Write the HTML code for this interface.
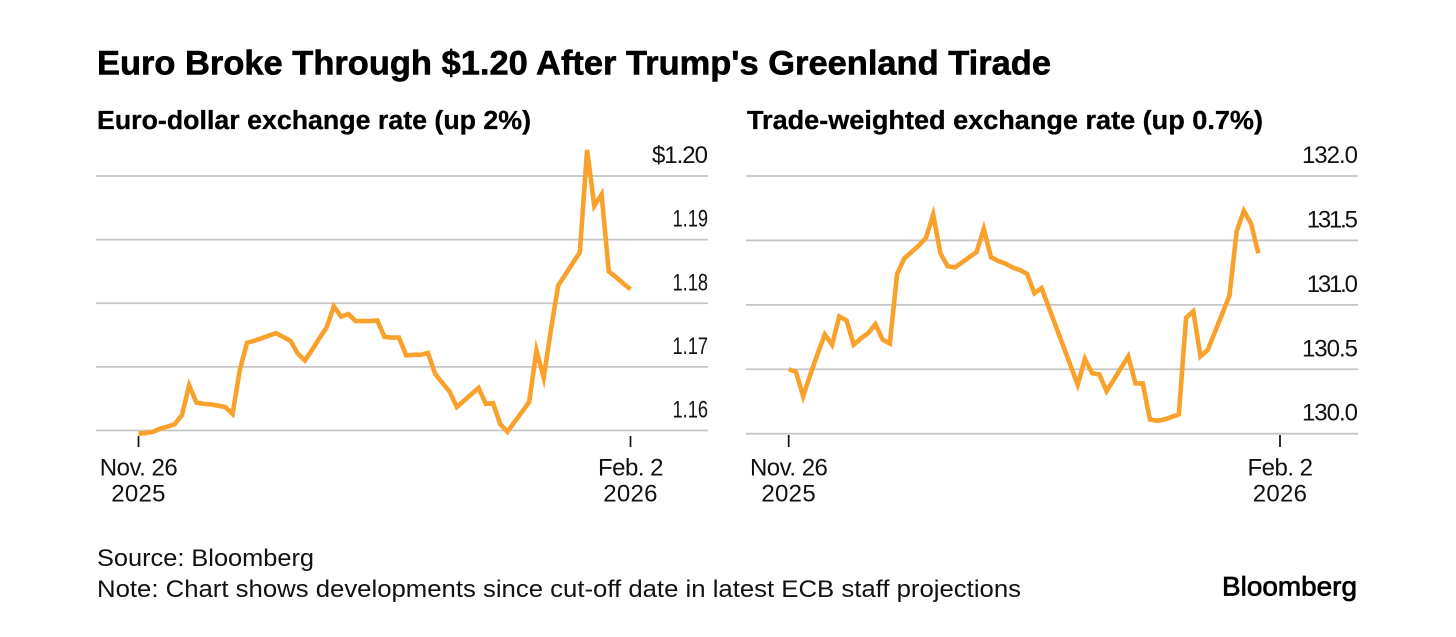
<!DOCTYPE html>
<html lang="en">
<head>
<meta charset="utf-8">
<title>Euro Broke Through $1.20 After Trump's Greenland Tirade</title>
<style>
html,body{margin:0;padding:0;background:#fff;}
svg{display:block;font-family:"Liberation Sans",Arial,sans-serif;}
</style>
</head>
<body>
<svg id="chart" width="1456" height="637" viewBox="0 0 1456 637" xmlns="http://www.w3.org/2000/svg">
<rect width="1456" height="637" fill="#ffffff"/>
<text x="97" y="74.5" font-size="34" font-weight="700" fill="#000" stroke="#000" stroke-width="0.6" textLength="954" lengthAdjust="spacingAndGlyphs">Euro Broke Through $1.20 After Trump's Greenland Tirade</text>
<text x="97" y="129" font-size="25.5" font-weight="700" fill="#000" stroke="#000" stroke-width="0.3" textLength="434" lengthAdjust="spacingAndGlyphs">Euro-dollar exchange rate (up 2%)</text>
<text x="747" y="129" font-size="25.5" font-weight="700" fill="#000" stroke="#000" stroke-width="0.3" textLength="516" lengthAdjust="spacingAndGlyphs">Trade-weighted exchange rate (up 0.7%)</text>
<g id="left-panel"></g>
<g id="right-panel"></g>
<text x="97" y="566" font-size="24" fill="#111" textLength="217" lengthAdjust="spacingAndGlyphs">Source: Bloomberg</text>
<text x="97" y="597" font-size="24" fill="#111" textLength="924" lengthAdjust="spacingAndGlyphs">Note: Chart shows developments since cut-off date in latest ECB staff projections</text>
<text x="1222" y="595.5" font-size="26.5" fill="#000" stroke="#000" stroke-width="0.7" textLength="135" lengthAdjust="spacingAndGlyphs">Bloomberg</text>
</svg>
<script>
const leftTickValues = [1.20, 1.19, 1.18, 1.17, 1.16];
const leftTickLabels = ["$1.20", "1.19", "1.18", "1.17", "1.16"];
const rightTickValues = [132.0, 131.5, 131.0, 130.5, 130.0];
const rightTickLabels = ["132.0", "131.5", "131.0", "130.5", "130.0"];
const dateTickDays = [0, 68];
const dateTickLine1 = ["Nov. 26", "Feb. 2"];
const dateTickLine2 = ["2025", "2026"];
const euroDollarSeries = [
1.1595,1.1596,1.1598,1.1603,1.1606,1.1610,1.1624,1.1671,1.1644,1.1642,
1.1641,1.1639,1.1637,1.1626,1.1695,1.1738,1.1741,1.1745,1.1749,1.1753,
1.1747,1.1741,1.1721,1.1710,1.1727,1.1745,1.1762,1.1795,1.1779,1.1783,
1.1772,1.1772,1.1772,1.1773,1.1747,1.1746,1.1746,1.1718,1.1719,1.1719,
1.1722,1.1689,1.1675,1.1661,1.1637,1.1647,1.1657,1.1667,1.1642,1.1643,
1.1610,1.1598,1.1614,1.1629,1.1645,1.1726,1.1683,1.1758,1.1828,1.1845,
1.1863,1.1880,1.2041,1.1953,1.1971,1.1850,1.1841,1.1831,1.1822
];
const tradeWeightedSeries = [
130.50,130.48,130.29,130.46,130.62,130.77,130.69,130.91,130.88,130.69,
130.74,130.78,130.85,130.73,130.70,131.24,131.36,131.41,131.46,131.52,
131.70,131.40,131.30,131.29,131.33,131.37,131.41,131.59,131.37,131.34,
131.32,131.29,131.27,131.24,131.09,131.13,130.98,130.83,130.68,130.53,
130.38,130.58,130.47,130.46,130.33,130.42,130.51,130.60,130.39,130.39,
130.11,130.10,130.11,130.13,130.15,130.90,130.95,130.60,130.65,130.79,
130.93,131.07,131.57,131.73,131.63,131.40
];

const NS = "http://www.w3.org/2000/svg";

function makeScale(d0, d1, r0, r1) {
  return function (v) { return r0 + (v - d0) / (d1 - d0) * (r1 - r0); };
}

function drawPanel(group, opts) {
  const xScale = makeScale(0, 68, opts.xStart, opts.xEnd);
  const yScale = makeScale(opts.domainLow, opts.domainHigh, opts.yLow, opts.yHigh);

  opts.tickValues.forEach(function (v, i) {
    const y = yScale(v);
    const line = document.createElementNS(NS, "line");
    
    
    line.setAttribute("x1", opts.gridLeft);
    line.setAttribute("x2", opts.gridRight);
    line.setAttribute("y1", y);
    line.setAttribute("y2", y);
    line.setAttribute("stroke", "#c6c6c6");
    line.setAttribute("stroke-width", "1.8");
    group.appendChild(line);

    const text = opts.tickLabels[i];
    const label = document.createElementNS(NS, "text");
    
    
    label.setAttribute("y", y - 13);
    label.setAttribute("text-anchor", "end");
    label.setAttribute("font-size", "24");
    label.setAttribute("fill", "#111");
    if (text.length === 4) {
      label.setAttribute("x", opts.gridRight);
      label.setAttribute("textLength", "35.5");
      label.setAttribute("lengthAdjust", "spacingAndGlyphs");
    } else {
      const ls = (text.match(/1/g) || []).length > 1 ? -2.2 : -1;
      label.setAttribute("x", opts.gridRight + ls);
      label.setAttribute("letter-spacing", ls);
    }
    label.textContent = text;
    group.appendChild(label);
  });

  dateTickDays.forEach(function (d, i) {
    const x = xScale(d);
    const tick = document.createElementNS(NS, "line");
    
    
    tick.setAttribute("x1", x);
    tick.setAttribute("x2", x);
    tick.setAttribute("y1", opts.tickTop);
    tick.setAttribute("y2", 447);
    tick.setAttribute("stroke", "#111");
    tick.setAttribute("stroke-width", "1.7");
    group.appendChild(tick);

    const l1 = document.createElementNS(NS, "text");
    
    
    l1.setAttribute("x", x);
    l1.setAttribute("y", 475.5);
    l1.setAttribute("text-anchor", "middle");
    l1.setAttribute("font-size", "24");
    l1.setAttribute("letter-spacing", "-0.5");
    l1.setAttribute("fill", "#111");
    l1.textContent = dateTickLine1[i];
    group.appendChild(l1);

    const l2 = document.createElementNS(NS, "text");
    
    
    l2.setAttribute("x", x);
    l2.setAttribute("y", 501.5);
    l2.setAttribute("text-anchor", "middle");
    l2.setAttribute("font-size", "24");
    l2.setAttribute("letter-spacing", "0.3");
    l2.setAttribute("fill", "#111");
    l2.textContent = dateTickLine2[i];
    group.appendChild(l2);
  });

  const d = opts.series.map(function (v, i) {
    return (i ? "L" : "M") + xScale(i).toFixed(2) + " " + yScale(v).toFixed(2);
  }).join(" ");
  const path = document.createElementNS(NS, "path");
  
  
  path.setAttribute("d", d);
  path.setAttribute("fill", "none");
  path.setAttribute("stroke", "#f9a12b");
  path.setAttribute("stroke-width", "4.6");
  path.setAttribute("stroke-linejoin", "miter");
  path.setAttribute("stroke-miterlimit", "6");
  group.appendChild(path);
}

drawPanel(document.getElementById("left-panel"), {
  xStart: 138.5, xEnd: 630.5,
  domainLow: 1.16, domainHigh: 1.20, yLow: 430.5, yHigh: 176,
  gridLeft: 96, gridRight: 708, tickTop: 436,
  tickValues: leftTickValues, tickLabels: leftTickLabels,
  series: euroDollarSeries, lineName: "euro-dollar-line"
});
drawPanel(document.getElementById("right-panel"), {
  xStart: 788.7, xEnd: 1280,
  domainLow: 130, domainHigh: 132, yLow: 433.7, yHigh: 176,
  gridLeft: 746, gridRight: 1358, tickTop: 435,
  tickValues: rightTickValues, tickLabels: rightTickLabels,
  series: tradeWeightedSeries, lineName: "trade-weighted-line"
});
</script>
</body>
</html>
